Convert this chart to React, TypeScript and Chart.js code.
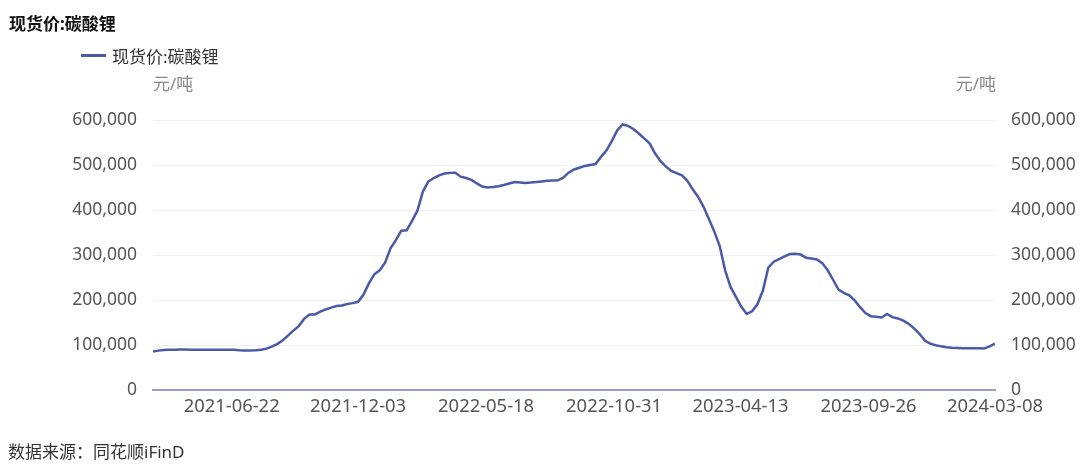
import React, { useEffect, useRef } from "react";
import { Chart, registerables } from "chart.js";

Chart.register(...registerables);

const chartTitle = "现货价:碳酸锂";
const seriesName = "现货价:碳酸锂";
const unitLabel = "元/吨";
const sourceText = "数据来源：同花顺iFinD";

// weekly observation dates (Fridays)
const dates: string[] = [
  "2021-03-12", "2021-03-19", "2021-03-26", "2021-04-02", "2021-04-09", "2021-04-16", "2021-04-23", "2021-04-30",
  "2021-05-07", "2021-05-14", "2021-05-21", "2021-05-28", "2021-06-04", "2021-06-11", "2021-06-18", "2021-06-25",
  "2021-07-02", "2021-07-09", "2021-07-16", "2021-07-23", "2021-07-30", "2021-08-06", "2021-08-13", "2021-08-20",
  "2021-08-27", "2021-09-03", "2021-09-10", "2021-09-17", "2021-09-24", "2021-10-01", "2021-10-08", "2021-10-15",
  "2021-10-22", "2021-10-29", "2021-11-05", "2021-11-12", "2021-11-19", "2021-11-26", "2021-12-03", "2021-12-10",
  "2021-12-17", "2021-12-24", "2021-12-31",
  "2022-01-07", "2022-01-14", "2022-01-21", "2022-01-28", "2022-02-04", "2022-02-11", "2022-02-18", "2022-02-25",
  "2022-03-04", "2022-03-11", "2022-03-18", "2022-03-25", "2022-04-01", "2022-04-08", "2022-04-15", "2022-04-22",
  "2022-04-29", "2022-05-06", "2022-05-13", "2022-05-20", "2022-05-27", "2022-06-03", "2022-06-10", "2022-06-17",
  "2022-06-24", "2022-07-01", "2022-07-08", "2022-07-15", "2022-07-22", "2022-07-29", "2022-08-05", "2022-08-12",
  "2022-08-19", "2022-08-26", "2022-09-02", "2022-09-09", "2022-09-16", "2022-09-23", "2022-09-30", "2022-10-07",
  "2022-10-14", "2022-10-21", "2022-10-28", "2022-11-04", "2022-11-11", "2022-11-18", "2022-11-25", "2022-12-02",
  "2022-12-09", "2022-12-16", "2022-12-23", "2022-12-30",
  "2023-01-06", "2023-01-13", "2023-01-20", "2023-01-27", "2023-02-03", "2023-02-10", "2023-02-17", "2023-02-24",
  "2023-03-03", "2023-03-10", "2023-03-17", "2023-03-24", "2023-03-31", "2023-04-07", "2023-04-14", "2023-04-21",
  "2023-04-28", "2023-05-05", "2023-05-12", "2023-05-19", "2023-05-26", "2023-06-02", "2023-06-09", "2023-06-16",
  "2023-06-23", "2023-06-30", "2023-07-07", "2023-07-14", "2023-07-21", "2023-07-28", "2023-08-04", "2023-08-11",
  "2023-08-18", "2023-08-25", "2023-09-01", "2023-09-08", "2023-09-15", "2023-09-22", "2023-09-29", "2023-10-06",
  "2023-10-13", "2023-10-20", "2023-10-27", "2023-11-03", "2023-11-10", "2023-11-17", "2023-11-24", "2023-12-01",
  "2023-12-08", "2023-12-15", "2023-12-22", "2023-12-29",
  "2024-01-05", "2024-01-12", "2024-01-19", "2024-01-26", "2024-02-02", "2024-02-09", "2024-02-16", "2024-02-23",
  "2024-03-01", "2024-03-08",
];

// 元/吨
const prices: number[] = [
  85700, 87500, 89000, 89500, 89700, 90000, 90000, 89700,
  89500, 89400, 89400, 89400, 89400, 89400, 89400, 89200,
  88200, 88000, 88000, 88500, 89500, 92000, 96500, 102000,
  110000, 121000, 132000, 142000, 158000, 168000, 168000, 174000,
  179000, 183000, 186500, 188000, 191000, 193000, 196000, 212000,
  237000, 257000, 266000,
  283000, 315000, 333000, 354000, 355000, 376000, 399000, 441000,
  463000, 471000, 477000, 481000, 482500, 483000, 474000, 471000,
  467000, 459000, 452000, 450000, 451000, 453000, 455500, 459000,
  462000, 461000, 460000, 461000, 462000, 463500, 465000, 465500,
  466000, 472000, 483000, 490000, 494000, 498000, 500000, 502000,
  518000, 532000, 553000, 577000, 590000, 587000, 580000, 570000,
  559000, 548000, 526000, 509000,
  497000, 487000, 482000, 477000, 465000, 446000, 429000, 407000,
  380000, 352000, 320000, 266000, 229000, 207000, 185000, 169000,
  175000, 191000, 221000, 272000, 285000, 291000, 297000, 302000,
  303000, 301000, 294000, 292000, 290000, 282000, 266000, 245000,
  223000, 216000, 210500, 199000, 184000, 171000, 164000, 163000,
  161000, 169000, 162000, 159000, 154000, 147000, 137000, 125000,
  110000, 103000, 99500, 97000,
  95000, 94000, 93500, 93000, 93000, 93000, 93000, 92000,
  97000, 103000,
];

const xTickLabels: string[] = [
  "2021-06-22", "2021-12-03", "2022-05-18", "2022-10-31", "2023-04-13", "2023-09-26", "2024-03-08",
];

const yMin = 0;
const yMax = 600000;
const yStep = 100000;

const dayNum = (s: string) =>
  Date.UTC(+s.slice(0, 4), +s.slice(5, 7) - 1, +s.slice(8, 10)) / 86400000;

const FONT = '"Noto Sans", "Noto Sans CJK SC", sans-serif';
const LINE_COLOR = "#4b5aa7";

export default function App() {
  const canvasRef = useRef<HTMLCanvasElement | null>(null);

  useEffect(() => {
    if (!canvasRef.current) return;
    const fmt = (v: number) => Number(v).toLocaleString("en-US");
    const yTickCommon = {
      color: "#555555",
      font: { family: FONT, size: 17.5 },
      padding: 16,
      stepSize: yStep,
      callback: (v: any) => fmt(v),
    };
    const chart = new Chart(canvasRef.current, {
      type: "line",
      data: {
        datasets: [
          {
            label: seriesName,
            data: dates.map((d, i) => ({ x: dayNum(d), y: prices[i] })),
            borderColor: LINE_COLOR,
            backgroundColor: LINE_COLOR,
            borderWidth: 2.5,
            pointRadius: 0,
            tension: 0,
            yAxisID: "y",
          },
        ],
      },
      options: {
        responsive: false,
        animation: false,
        devicePixelRatio: 1,
        layout: { padding: { top: 120, left: 0, right: 0, bottom: 0 } },
        plugins: {
          legend: { display: false },
          tooltip: { enabled: false },
          title: { display: false },
        },
        scales: {
          x: {
            type: "linear",
            min: dayNum(dates[0]),
            max: dayNum(dates[dates.length - 1]),
            grid: { display: false, drawTicks: false },
            border: { display: true, color: "#9d9dcd", width: 2 },
            afterBuildTicks: (scale: any) => {
              scale.ticks = xTickLabels.map((d) => ({ value: dayNum(d) }));
            },
            afterFit: (scale: any) => {
              scale.height = 76;
            },
            ticks: {
              autoSkip: false,
              maxRotation: 0,
              minRotation: 0,
              color: "#555555",
              font: { family: FONT, size: 18.4 },
              padding: 6,
              callback: (v: any) => {
                const f = xTickLabels.find((d) => dayNum(d) === v);
                return f ?? "";
              },
            },
          },
          y: {
            position: "left",
            min: yMin,
            max: yMax,
            grid: { color: "#eef0f6", lineWidth: 1, drawTicks: false },
            border: { display: false },
            ticks: yTickCommon,
            afterFit: (scale: any) => {
              scale.width = 153;
            },
          },
          y2: {
            position: "right",
            min: yMin,
            max: yMax,
            grid: { display: false, drawTicks: false },
            border: { display: false },
            ticks: yTickCommon,
            afterFit: (scale: any) => {
              scale.width = 91;
            },
          },
        },
      } as any,
    });
    return () => chart.destroy();
  }, []);

  const textBase: React.CSSProperties = {
    position: "absolute",
    fontFamily: FONT,
    whiteSpace: "nowrap",
  };

  return (
    <div style={{ position: "absolute", left: 0, top: 0, width: 1086, height: 466, background: "#ffffff", overflow: "hidden" }}>
      <canvas ref={canvasRef} width={1086} height={466} style={{ position: "absolute", left: 0, top: 0, width: 1086, height: 466 }} />
      <div style={{ ...textBase, left: 9, top: 14, fontSize: 17, lineHeight: "20px", fontWeight: 700, color: "#111111" }}>{chartTitle}</div>
      <div style={{ position: "absolute", left: 81, top: 54, width: 25, height: 3, background: LINE_COLOR }} />
      <div style={{ ...textBase, left: 112, top: 47, fontSize: 17, lineHeight: "20px", color: "#333333" }}>{seriesName}</div>
      <div style={{ ...textBase, left: 153, top: 74, fontSize: 17, lineHeight: "20px", color: "#888888" }}>{unitLabel}</div>
      <div style={{ ...textBase, right: 1086 - 996, top: 74, fontSize: 17, lineHeight: "20px", color: "#888888", textAlign: "right" }}>{unitLabel}</div>
      <div style={{ ...textBase, left: 8, top: 442, fontSize: 17, lineHeight: "20px", color: "#333333" }}>{sourceText}</div>
    </div>
  );
}
